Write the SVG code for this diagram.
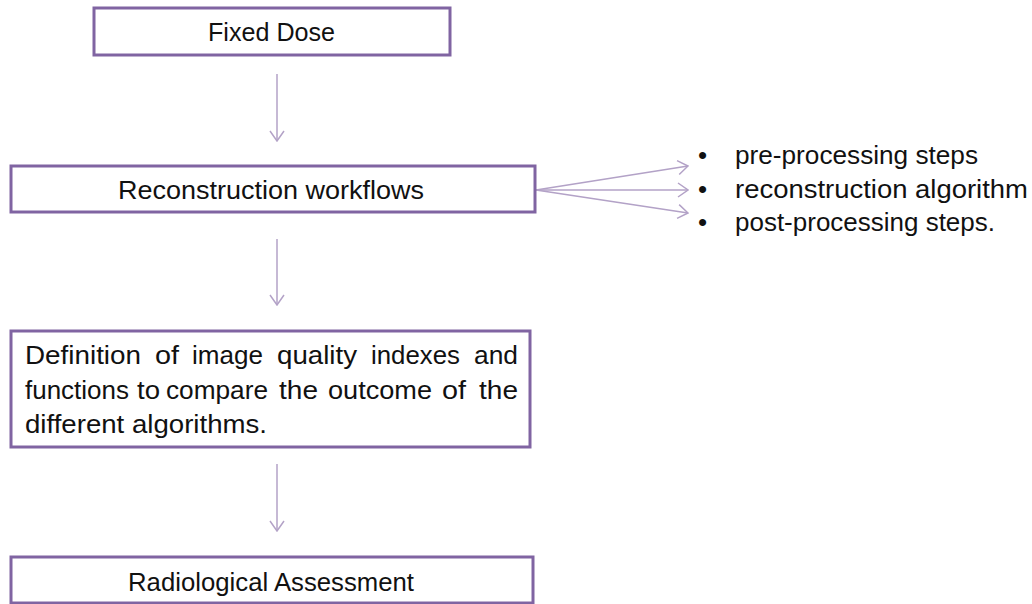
<svg xmlns="http://www.w3.org/2000/svg" width="1032" height="604" viewBox="0 0 1032 604">
<defs>
<style>
.box{fill:#fff;stroke:#8064a2;stroke-width:3}
.t{font-family:"Liberation Sans",Arial,sans-serif;font-size:26px;fill:#111}
.c{text-anchor:middle}
.con{stroke:#b3a2c7;stroke-width:1.5;fill:none}
</style>
<marker id="ah" viewBox="0 0 12 16" refX="11" refY="8" markerWidth="12" markerHeight="16" markerUnits="userSpaceOnUse" orient="auto">
<path d="M1,1 L11,8 L1,15" fill="none" stroke="#b3a2c7" stroke-width="1.5"/>
</marker>
</defs>
<rect width="1032" height="604" fill="#fff"/>
<g id="connectors">
<line class="con" x1="277" y1="74" x2="277" y2="141" marker-end="url(#ah)"/>
<line class="con" x1="277" y1="239" x2="277" y2="305" marker-end="url(#ah)"/>
<line class="con" x1="277" y1="464" x2="277" y2="531" marker-end="url(#ah)"/>
<line class="con" x1="536" y1="190" x2="688" y2="166" marker-end="url(#ah)"/>
<line class="con" x1="536" y1="190" x2="688" y2="190" marker-end="url(#ah)"/>
<line class="con" x1="536" y1="190" x2="688" y2="213" marker-end="url(#ah)"/>
</g>
<g id="fixed-dose">
<rect class="box" x="94" y="8" width="356" height="47"/>
<text class="t c" x="271.5" y="41" textLength="127" lengthAdjust="spacingAndGlyphs">Fixed Dose</text>
</g>
<g id="reconstruction">
<rect class="box" x="11" y="166" width="524" height="46"/>
<text class="t c" x="271" y="199" textLength="306" lengthAdjust="spacingAndGlyphs">Reconstruction workflows</text>
</g>
<g id="steps">
<text class="t" x="698" y="164">•</text>
<text class="t" x="735" y="164" textLength="243" lengthAdjust="spacingAndGlyphs">pre-processing steps</text>
<text class="t" x="698" y="198">•</text>
<text class="t" x="735" y="198" textLength="293" lengthAdjust="spacingAndGlyphs">reconstruction algorithm</text>
<text class="t" x="698" y="231">•</text>
<text class="t" x="735" y="231" textLength="260" lengthAdjust="spacingAndGlyphs">post-processing steps.</text>
</g>
<g id="definition">
<rect class="box" x="11" y="331" width="519" height="116"/>
<text class="t" y="364"><tspan x="25" textLength="116" lengthAdjust="spacingAndGlyphs">Definition</tspan><tspan x="155" textLength="24" lengthAdjust="spacingAndGlyphs">of</tspan><tspan x="192" textLength="71" lengthAdjust="spacingAndGlyphs">image</tspan><tspan x="277" textLength="80" lengthAdjust="spacingAndGlyphs">quality</tspan><tspan x="371" textLength="89" lengthAdjust="spacingAndGlyphs">indexes</tspan><tspan x="474" textLength="44" lengthAdjust="spacingAndGlyphs">and</tspan></text>
<text class="t" y="399"><tspan x="25" textLength="104" lengthAdjust="spacingAndGlyphs">functions</tspan><tspan x="137" textLength="23" lengthAdjust="spacingAndGlyphs">to</tspan><tspan x="166" textLength="102" lengthAdjust="spacingAndGlyphs">compare</tspan><tspan x="279" textLength="39" lengthAdjust="spacingAndGlyphs">the</tspan><tspan x="328" textLength="104" lengthAdjust="spacingAndGlyphs">outcome</tspan><tspan x="442" textLength="24" lengthAdjust="spacingAndGlyphs">of</tspan><tspan x="479" textLength="39" lengthAdjust="spacingAndGlyphs">the</tspan></text>
<text class="t" x="25" y="433" textLength="242" lengthAdjust="spacingAndGlyphs">different algorithms.</text>
</g>
<g id="radiological">
<rect class="box" x="11" y="557" width="522" height="46"/>
<text class="t c" x="271" y="591" textLength="286" lengthAdjust="spacingAndGlyphs">Radiological Assessment</text>
</g>
</svg>
